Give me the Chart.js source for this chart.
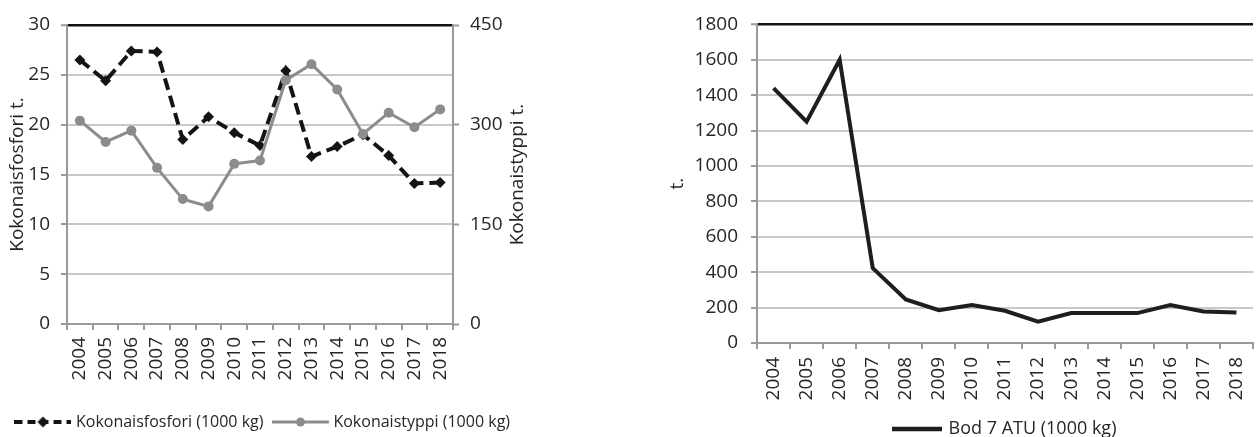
<!DOCTYPE html>
<html>
<head>
<meta charset="utf-8">
<script src="https://cdn.jsdelivr.net/npm/chart.js@4.4.1/dist/chart.umd.min.js"></script>
<style>
  html, body { margin: 0; padding: 0; background: #fff; }
  body { width: 1256px; height: 437px; overflow: hidden; position: relative; }
  .box { position: absolute; top: 0; }
  #leftBox { left: 0; width: 528px; height: 440px; }
  #rightBox { left: 660px; width: 596px; height: 448px; }
</style>
</head>
<body>
<div class="box" id="leftBox"><canvas id="leftChart"></canvas></div>
<div class="box" id="rightBox"><canvas id="rightChart"></canvas></div>
<script>
// ---- data ----
const years = ["2004", "2005", "2006", "2007", "2008", "2009", "2010", "2011",
  "2012", "2013", "2014", "2015", "2016", "2017", "2018"];
const fosfori = [26.5, 24.4, 27.4, 27.3, 18.5, 20.8, 19.2, 17.9, 25.4, 16.8, 17.8, 19.0, 16.9, 14.1, 14.2];
const typpi = [306, 274, 291, 235, 188, 177, 241, 246, 367, 391, 353, 286, 318, 296, 323];
const bod = [1440, 1250, 1600, 423, 246, 185, 215, 182, 120, 169, 169, 169, 215, 178, 172];

const fosforiLabel = "Kokonaisfosfori (1000 kg)";
const typpiLabel = "Kokonaistyppi (1000 kg)";
const bodLabel = "Bod 7 ATU (1000 kg)";

// ---- shared look ----
const TEXT = "#262626";
const AXIS = "#9a9a9a";
const GRID = "#c8c8c8";
const FONT = '"Open Sans", "DejaVu Sans", sans-serif';

Chart.defaults.font.family = FONT;
Chart.defaults.color = TEXT;
Chart.defaults.animation = false;

// right-hand axis title that reads bottom-to-top like the left one
const sideTitle = {
  id: "sideTitle",
  afterDraw(chart, _args, opts) {
    if (!opts || !opts.text) return;
    const s = chart.scales[opts.scaleId];
    if (!s) return;
    const { ctx, chartArea } = chart;
    ctx.save();
    ctx.translate(s.right - opts.offset, (chartArea.top + chartArea.bottom) / 2);
    ctx.rotate(-Math.PI / 2);
    ctx.font = opts.size + "px " + FONT;
    ctx.fillStyle = TEXT;
    ctx.textAlign = "center";
    ctx.textBaseline = "middle";
    ctx.fillText(opts.text, 0, 0);
    ctx.restore();
  },
};

function makeIcon(w, h, draw) {
  const c = document.createElement("canvas");
  c.width = w;
  c.height = h;
  draw(c.getContext("2d"), w, h);
  return c;
}

const fosforiIcon = makeIcon(57, 14, (ctx, w, h) => {
  ctx.strokeStyle = "#141414";
  ctx.lineWidth = 4;
  ctx.setLineDash([8, 5]);
  ctx.beginPath();
  ctx.moveTo(0, h / 2);
  ctx.lineTo(w, h / 2);
  ctx.stroke();
  ctx.fillStyle = "#141414";
  ctx.beginPath();
  ctx.moveTo(w / 2, h / 2 - 5.5);
  ctx.lineTo(w / 2 + 5.5, h / 2);
  ctx.lineTo(w / 2, h / 2 + 5.5);
  ctx.lineTo(w / 2 - 5.5, h / 2);
  ctx.closePath();
  ctx.fill();
});

const typpiIcon = makeIcon(57, 14, (ctx, w, h) => {
  ctx.strokeStyle = "#8c8c8c";
  ctx.lineWidth = 3;
  ctx.beginPath();
  ctx.moveTo(0, h / 2);
  ctx.lineTo(w, h / 2);
  ctx.stroke();
  ctx.fillStyle = "#8c8c8c";
  ctx.beginPath();
  ctx.arc(w / 2, h / 2, 4.5, 0, Math.PI * 2);
  ctx.fill();
});

const bodIcon = makeIcon(50, 10, (ctx, w, h) => {
  ctx.strokeStyle = "#1e1e1e";
  ctx.lineWidth = 4.5;
  ctx.beginPath();
  ctx.moveTo(0, h / 2);
  ctx.lineTo(w, h / 2);
  ctx.stroke();
});

function legendWithIcons(icons, size, boxW) {
  return {
    position: "bottom",
    labels: {
      usePointStyle: true,
      pointStyleWidth: boxW,
      padding: 12,
      color: TEXT,
      font: { size },
      sort: (a, b) => a.datasetIndex - b.datasetIndex,
      generateLabels(chart) {
        const items = Chart.defaults.plugins.legend.labels.generateLabels(chart);
        items.forEach((it) => { it.pointStyle = icons[it.datasetIndex]; });
        return items;
      },
    },
  };
}

function yGrid(max) {
  return {
    color: (c) => (c.tick && c.tick.value === max ? "#111111" : GRID),
    lineWidth: (c) => (c.tick && c.tick.value === max ? 2.5 : 2),
    tickColor: AXIS,
    tickWidth: 2,
    tickLength: 6,
  };
}

function yTicks(step, pad) {
  return { stepSize: step, padding: pad, font: { size: 19 }, color: TEXT, callback: (v) => String(v) };
}

function xAxis(height, pad) {
  return {
    offset: true,
    grid: { offset: true, drawOnChartArea: false, color: AXIS, tickLength: 6, lineWidth: 2 },
    border: { color: AXIS, width: 2 },
    ticks: { minRotation: 90, maxRotation: 90, autoSkip: false, padding: pad, font: { size: 19 }, color: TEXT },
    afterFit: (s) => {
      s.height = height;
      s.paddingLeft = 0;
      s.paddingRight = 0;
    },
  };
}

// ---- left: phosphorus + nitrogen ----
new Chart(document.getElementById("leftChart"), {
  type: "line",
  data: {
    labels: years,
    datasets: [
      {
        label: fosforiLabel,
        data: fosfori,
        yAxisID: "y",
        order: 1,
        borderColor: "#141414",
        backgroundColor: "#141414",
        borderWidth: 4,
        borderDash: [12, 6],
        pointStyle: "rectRot",
        pointRadius: 5.5,
        pointBorderWidth: 0,
        tension: 0,
      },
      {
        label: typpiLabel,
        data: typpi,
        yAxisID: "y1",
        order: 0,
        borderColor: "#8c8c8c",
        backgroundColor: "#8c8c8c",
        borderWidth: 3,
        pointStyle: "circle",
        pointRadius: 5,
        pointBorderWidth: 0,
        tension: 0,
      },
    ],
  },
  options: {
    responsive: true,
    maintainAspectRatio: false,
    layout: { padding: { top: 25, left: 0, right: 0, bottom: 0 } },
    plugins: {
      legend: legendWithIcons([fosforiIcon, typpiIcon], 16, 50),
      tooltip: { enabled: false },
      sideTitle: { scaleId: "y1", text: "Kokonaistyppi t.", offset: 10, size: 19 },
    },
    scales: {
      x: xAxis(78, 7),
      y: {
        min: 0,
        max: 30,
        ticks: yTicks(5, 11),
        grid: yGrid(30),
        border: { color: AXIS, width: 2 },
        title: { display: true, text: "Kokonaisfosfori t.", font: { size: 19 }, color: TEXT, padding: { top: 6, bottom: 0 } },
        afterFit: (s) => { s.width = 67; },
      },
      y1: {
        position: "right",
        min: 0,
        max: 450,
        ticks: yTicks(150, 11),
        grid: { drawOnChartArea: false, tickColor: AXIS, tickWidth: 2, tickLength: 6 },
        border: { color: AXIS, width: 2 },
        afterFit: (s) => { s.width = 75; },
      },
    },
  },
  plugins: [sideTitle],
});

// ---- right: BOD7 ----
new Chart(document.getElementById("rightChart"), {
  type: "line",
  data: {
    labels: years,
    datasets: [
      {
        label: bodLabel,
        data: bod,
        borderColor: "#1e1e1e",
        backgroundColor: "#1e1e1e",
        borderWidth: 4,
        pointRadius: 0,
        tension: 0,
      },
    ],
  },
  options: {
    responsive: true,
    maintainAspectRatio: false,
    layout: { padding: { top: 20, left: 0, right: 3, bottom: 0 } },
    plugins: {
      legend: Object.assign(legendWithIcons([bodIcon], 18, 46), { fullSize: false }),
      tooltip: { enabled: false },
    },
    scales: {
      x: xAxis(65, 8),
      y: {
        min: 0,
        max: 1800,
        ticks: yTicks(200, 13),
        grid: yGrid(1800),
        border: { color: AXIS, width: 2 },
        title: { display: true, text: "t.", font: { size: 19 }, color: TEXT, padding: { top: 6, bottom: 0 } },
        afterFit: (s) => { s.width = 97; },
      },
    },
  },
});
</script>
</body>
</html>
